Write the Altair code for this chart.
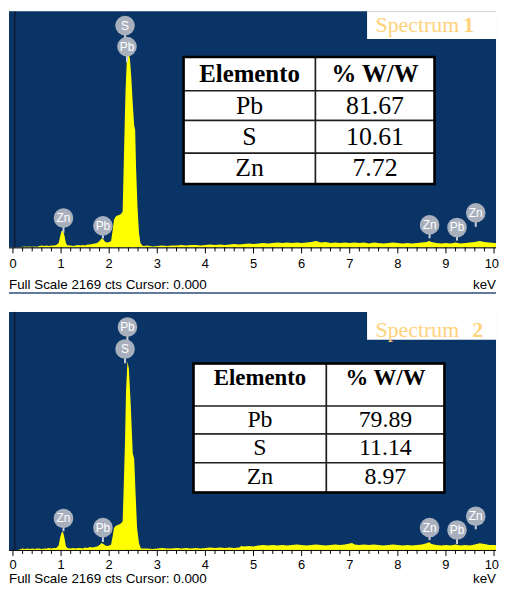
import altair as alt
import pandas as pd

# ---------------- data ----------------
KEV_1 = [0.00, 0.10, 0.20, 0.25, 0.30, 0.35, 0.40, 0.45, 0.50, 0.55, 0.60, 0.65, 0.70, 0.75, 0.80, 0.85,
         0.90, 0.95, 0.98, 1.01, 1.04, 1.07, 1.10, 1.13, 1.20, 1.25, 1.30, 1.35, 1.40, 1.45, 1.50, 1.55,
         1.60, 1.65, 1.70, 1.75, 1.80, 1.84, 1.88, 1.92, 1.96, 2.00, 2.04, 2.07, 2.10, 2.13, 2.16, 2.19,
         2.22, 2.25, 2.28, 2.31, 2.34, 2.37, 2.40, 2.43, 2.46, 2.49, 2.52, 2.54, 2.56, 2.59, 2.62, 2.65,
         2.70, 2.80, 2.90, 3.00, 3.10, 3.20, 3.30, 3.40, 3.50, 3.60, 3.70, 3.80, 3.90, 4.00, 4.10, 4.20,
         4.30, 4.40, 4.50, 4.60, 4.70, 4.80, 4.90, 5.00, 5.10, 5.20, 5.30, 5.40, 5.50, 5.60, 5.70, 5.80,
         5.90, 6.00, 6.10, 6.20, 6.30, 6.40, 6.50, 6.60, 6.70, 6.80, 6.90, 7.00, 7.10, 7.20, 7.30, 7.40,
         7.50, 7.60, 7.70, 7.80, 7.90, 8.00, 8.10, 8.20, 8.30, 8.40, 8.50, 8.60, 8.65, 8.70, 8.80, 8.90,
         9.00, 9.10, 9.20, 9.30, 9.40, 9.50, 9.60, 9.70, 9.80, 9.90, 10.00, 10.10, 10.20]
CTS_1 = [0, 0, 5, 9, 5, 9, 5, 9, 5, 14, 18, 14, 18, 14, 18, 18,
         22, 40, 100, 150, 155, 110, 40, 20, 18, 14, 18, 22, 18, 22, 18, 27,
         27, 32, 36, 40, 60, 82, 72, 50, 45, 50, 60, 150, 255, 280, 290, 295,
         300, 310, 330, 900, 1440, 1750, 1775, 1740, 1560, 1320, 1120, 1080, 720, 360, 135, 40,
         14, 18, 9, 14, 18, 14, 18, 18, 22, 18, 22, 22, 18, 22, 27, 22,
         27, 22, 27, 32, 27, 32, 36, 32, 36, 40, 36, 40, 45, 40, 45, 40,
         45, 40, 45, 50, 58, 45, 50, 40, 45, 40, 45, 40, 45, 40, 45, 36,
         45, 40, 36, 40, 45, 40, 36, 40, 36, 40, 45, 50, 60, 50, 40, 36,
         40, 36, 45, 36, 40, 45, 50, 60, 50, 45, 40, 36, 40]

KEV_2 = [0.00, 0.10, 0.20, 0.25, 0.30, 0.35, 0.40, 0.45, 0.50, 0.55, 0.60, 0.65, 0.70, 0.75, 0.80, 0.85,
         0.90, 0.95, 0.98, 1.01, 1.04, 1.07, 1.10, 1.13, 1.20, 1.25, 1.30, 1.35, 1.40, 1.45, 1.50, 1.55,
         1.60, 1.65, 1.70, 1.75, 1.80, 1.84, 1.88, 1.92, 1.96, 2.00, 2.04, 2.07, 2.10, 2.13, 2.16, 2.19,
         2.22, 2.25, 2.28, 2.30, 2.33, 2.35, 2.38, 2.41, 2.45, 2.49, 2.52, 2.55, 2.58, 2.62, 2.66,
         2.70, 2.80, 2.90, 3.00, 3.10, 3.20, 3.30, 3.40, 3.50, 3.60, 3.70, 3.80, 3.90, 4.00, 4.10, 4.20,
         4.30, 4.40, 4.50, 4.60, 4.70, 4.75, 4.80, 4.90, 5.00, 5.10, 5.20, 5.30, 5.40, 5.50, 5.60, 5.70,
         5.80, 5.90, 6.00, 6.10, 6.20, 6.30, 6.40, 6.50, 6.60, 6.70, 6.80, 6.90, 7.00, 7.05, 7.10, 7.20,
         7.30, 7.40, 7.50, 7.60, 7.70, 7.80, 7.90, 8.00, 8.10, 8.20, 8.30, 8.40, 8.50, 8.60, 8.65, 8.70,
         8.80, 8.90, 9.00, 9.10, 9.20, 9.30, 9.40, 9.50, 9.60, 9.70, 9.80, 9.90, 10.00, 10.10, 10.20]
CTS_2 = [0, 0, 14, 9, 14, 9, 14, 9, 14, 14, 9, 14, 14, 18, 14, 18,
         18, 40, 110, 160, 165, 110, 35, 18, 14, 18, 14, 18, 18, 14, 22, 18,
         27, 22, 27, 32, 45, 63, 55, 40, 36, 40, 50, 120, 200, 215, 225, 230,
         235, 245, 260, 540, 1000, 1440, 1720, 1650, 1305, 880, 830, 500, 200, 60, 14,
         14, 14, 9, 14, 18, 14, 14, 18, 14, 18, 14, 18, 14, 18, 22, 18,
         22, 18, 22, 18, 22, 36, 32, 36, 32, 40, 45, 40, 45, 40, 45, 40,
         45, 50, 45, 40, 45, 50, 45, 40, 45, 50, 45, 50, 58, 63, 50, 45,
         50, 45, 50, 45, 40, 45, 50, 45, 40, 45, 40, 45, 50, 60, 70, 55,
         45, 40, 45, 40, 50, 40, 45, 40, 50, 60, 55, 45, 45, 40, 45]

LBL_EL_1 = ["S", "Pb", "Zn", "Pb", "Zn", "Pb", "Zn"]
LBL_KEV_1 = [2.33, 2.37, 1.05, 1.87, 8.66, 9.23, 9.62]
LBL_CTS_1 = [2038, 1845, 270, 198, 207, 183, 318]
STEM_CTS_1 = [1845, 1700, 135, 81, 84, 63, 189]

LBL_EL_2 = ["Pb", "S", "Zn", "Pb", "Zn", "Pb", "Zn"]
LBL_KEV_2 = [2.38, 2.33, 1.05, 1.87, 8.66, 9.23, 9.62]
LBL_CTS_2 = [2031, 1831, 287, 203, 203, 182, 307]
STEM_CTS_2 = [1831, 1700, 170, 72, 90, 54, 188]

TABLE_HEADER = ["Elemento", "% W/W"]
TABLE_ELEMENTS = ["Pb", "S", "Zn"]
TABLE_1_VALUES = ["81.67", "10.61", "7.72"]
TABLE_2_VALUES = ["79.89", "11.14", "8.97"]

SPECTRUM_WORD = "Spectrum"
SPECTRUM_NUMBERS = ["1", "2"]
FULL_SCALE_TEXT = "Full Scale 2169 cts Cursor: 0.000"
UNIT_TEXT = "keV"
MAJOR_TICKS = list(range(11))
TICK_LABELS = [str(v) for v in MAJOR_TICKS]
MINOR_TICKS = [round(0.2 * i, 1) for i in range(51) if i % 5 != 0]
CURSOR_KEV = 0.04

# ---------------- layout / style ----------------
BLUE = "#0a3466"
YELLOW = "#ffff00"
GOLD = "#ffd27a"
SANS = "Liberation Sans"
SERIF = "Liberation Serif"
LEFT = 8
W = 491
PX_PER_KEV = 48.5
XMIN = -4 / PX_PER_KEV
XMAX = XMIN + W / PX_PER_KEV
YMAX = 2169

X_SCALE = alt.Scale(domain=[XMIN, XMAX], nice=False, zero=False)
Y_SCALE = alt.Scale(domain=[0, YMAX], nice=False, zero=False)


def kx(px):
    return XMIN + (px - LEFT) / PX_PER_KEV


def panel(kev, cts, lbl_el, lbl_kev, lbl_cts, stem_cts, vals, tx, ty, hdr_y, hdr_fs, val_fs,
          spec_no, no_x, box_bottom, spec_y, top, h, lab_y, foot_y, border):
    def cy(py):
        return YMAX * (top + h - py) / h

    def X(f):
        return alt.X(f + ":Q", scale=X_SCALE, axis=None)

    def Y(f):
        return alt.Y(f + ":Q", scale=Y_SCALE, axis=None)

    layers = []
    # spectrum
    spec = pd.DataFrame({"keV": kev, "cts": cts})
    layers.append(alt.Chart(spec).mark_area(color=YELLOW, interpolate="linear", clip=True).encode(
        x=X("keV"), y=Y("cts")))

    # spectrum name box
    box = pd.DataFrame({"x": [kx(369)], "x2": [XMAX], "y": [cy(box_bottom)], "y2": [YMAX]})
    layers.append(alt.Chart(box).mark_rect(fill="white").encode(
        x=X("x"), x2="x2", y=Y("y"), y2="y2"))
    sw = pd.DataFrame({"x": [kx(377.5)], "y": [cy(spec_y)], "t": [SPECTRUM_WORD]})
    layers.append(alt.Chart(sw).mark_text(align="left", baseline="middle", font=SERIF, fontSize=22,
                                          color=GOLD).encode(x=X("x"), y=Y("y"), text="t:N"))
    sn = pd.DataFrame({"x": [kx(no_x)], "y": [cy(spec_y)], "t": [spec_no]})
    layers.append(alt.Chart(sn).mark_text(align="left", baseline="middle", font=SERIF, fontSize=22,
                                          fontWeight="bold", color=GOLD).encode(
        x=X("x"), y=Y("y"), text="t:N"))

    # cursor
    cur = pd.DataFrame({"keV": [CURSOR_KEV]})
    layers.append(alt.Chart(cur).mark_rule(color="#11131c", strokeWidth=1).encode(
        x=X("keV"), y=alt.value(0), y2=alt.value(h)))

    # energy axis: baseline, ticks (major longer than minor), labels, unit
    base = pd.DataFrame({"v": [0]})
    layers.append(alt.Chart(base).mark_rule(color="black", strokeWidth=1).encode(
        x=alt.value(0), x2=alt.value(W), y=alt.value(h + 0.5)))
    maj = pd.DataFrame({"keV": MAJOR_TICKS, "t": TICK_LABELS})
    layers.append(alt.Chart(maj).mark_rule(color="black", strokeWidth=1).encode(
        x=X("keV"), y=alt.value(h), y2=alt.value(h + 6)))
    mnr = pd.DataFrame({"keV": MINOR_TICKS})
    layers.append(alt.Chart(mnr).mark_rule(color="black", strokeWidth=1).encode(
        x=X("keV"), y=alt.value(h), y2=alt.value(h + 4)))
    layers.append(alt.Chart(maj.iloc[:-1]).mark_text(font=SANS, fontSize=13, color="black",
                                                     baseline="middle").encode(
        x=X("keV"), y=alt.value(h + lab_y), text="t:N"))
    layers.append(alt.Chart(maj.iloc[-1:]).mark_text(font=SANS, fontSize=13, color="black",
                                                     baseline="middle", align="right", dx=5).encode(
        x=X("keV"), y=alt.value(h + lab_y), text="t:N"))

    # footer texts
    foot = pd.DataFrame({"t": [FULL_SCALE_TEXT], "u": [UNIT_TEXT]})
    layers.append(alt.Chart(foot).mark_text(align="left", baseline="middle", font=SANS, fontSize=13.5,
                                            color="black").encode(
        x=alt.value(0), y=alt.value(h + foot_y), text="t:N"))
    layers.append(alt.Chart(foot).mark_text(align="right", baseline="middle", font=SANS, fontSize=13.5,
                                            color="black").encode(
        x=alt.value(W), y=alt.value(h + foot_y), text="u:N"))

    # element labels
    lab = pd.DataFrame({"el": lbl_el, "keV": lbl_kev, "cts": lbl_cts, "stem": stem_cts})
    layers.append(alt.Chart(lab).mark_rule(color="#c9ced7", strokeWidth=2).encode(
        x=X("keV"), y=Y("cts"), y2="stem"))
    layers.append(alt.Chart(lab).mark_circle(size=390, color="#a9b0bd", opacity=1).encode(
        x=X("keV"), y=Y("cts")))
    layers.append(alt.Chart(lab).mark_text(font=SANS, fontSize=12, color="white",
                                           baseline="middle").encode(
        x=X("keV"), y=Y("cts"), text="el:N"))

    # table
    cells = []
    for r in range(4):
        for c in range(2):
            if r == 0:
                t = TABLE_HEADER[c]
            else:
                t = TABLE_ELEMENTS[r - 1] if c == 0 else vals[r - 1]
            cells.append({"x": kx(tx[c]), "x2": kx(tx[c + 1]), "y": cy(ty[r]), "y2": cy(ty[r + 1]),
                          "tx": kx((tx[c] + tx[c + 1]) / 2),
                          "ty": cy(hdr_y if r == 0 else (ty[r] + ty[r + 1]) / 2),
                          "t": t, "hdr": r == 0})
    cdf = pd.DataFrame(cells)
    layers.append(alt.Chart(cdf).mark_rect(fill="white", stroke="#1e1e1e", strokeWidth=1.5).encode(
        x=X("x"), x2="x2", y=Y("y"), y2="y2"))
    outer = pd.DataFrame({"x": [kx(tx[0])], "x2": [kx(tx[2])], "y": [cy(ty[0])], "y2": [cy(ty[4])]})
    layers.append(alt.Chart(outer).mark_rect(fillOpacity=0, stroke="black", strokeWidth=2.5).encode(
        x=X("x"), x2="x2", y=Y("y"), y2="y2"))
    layers.append(alt.Chart(cdf[cdf["hdr"]]).mark_text(font=SERIF, fontSize=hdr_fs, fontWeight="bold",
                                                        color="black", baseline="middle").encode(
        x=X("tx"), y=Y("ty"), text="t:N"))
    layers.append(alt.Chart(cdf[~cdf["hdr"]]).mark_text(font=SERIF, fontSize=val_fs, color="black",
                                                         baseline="middle").encode(
        x=X("tx"), y=Y("ty"), text="t:N"))

    if border:
        bd = pd.DataFrame({"v": [0]})
        layers.append(alt.Chart(bd).mark_rule(color="#2c4f80", strokeWidth=1.5).encode(
            x=alt.value(0), x2=alt.value(W), y=alt.value(h + 46)))

    return alt.layer(*layers).properties(width=W, height=h)


P1_TOP, P1_H = 8, 238
P2_TOP, P2_H = 311, 240

p1 = panel(KEV_1, CTS_1, LBL_EL_1, LBL_KEV_1, LBL_CTS_1, STEM_CTS_1, TABLE_1_VALUES,
           [184, 317, 437], [54, 88, 118, 151, 182], 71, 25, 26,
           SPECTRUM_NUMBERS[0], 466, 36, 22, P1_TOP, P1_H, 17, 38, True)
p2 = panel(KEV_2, CTS_2, LBL_EL_2, LBL_KEV_2, LBL_CTS_2, STEM_CTS_2, TABLE_2_VALUES,
           [194, 328, 447], [363, 406, 434, 463, 493], 378, 23, 24,
           SPECTRUM_NUMBERS[1], 475, 339, 329, P2_TOP, P2_H, 15, 29, False)

chart = alt.vconcat(p1, p2, spacing=P2_TOP - (P1_TOP + P1_H), bounds="flush").properties(
    padding=0
).configure_view(fill=BLUE, strokeWidth=0)

chart.save("out.html", embed_options={"renderer": "svg", "actions": False})
